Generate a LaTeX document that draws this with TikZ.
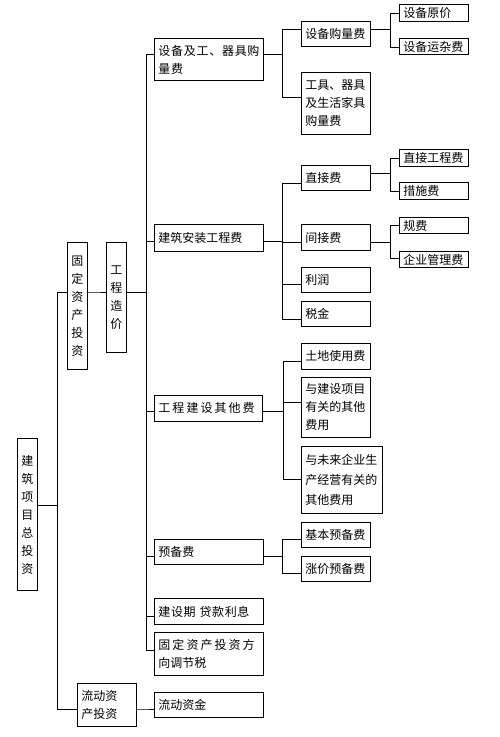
\documentclass[tikz,border=0pt]{standalone}
\usepackage{fontspec}
\setmainfont{Noto Sans CJK SC}
\newcommand\tlink[5]{\draw[conn] (#1.east |- 0,#2) -- (#3,#2) |- (#4.west |- 0,#5);}
\tikzset{
  box/.style={draw, line width=0.9pt, anchor=north west, inner xsep=4pt, inner ysep=0pt,
    align=left, font=\fontsize{12}{18}\selectfont},
  vbox/.style={box, align=center, minimum width=20pt, text width=12pt},
  ls/.style={font=\fontsize{12}{18}\selectfont\addfontfeature{LetterSpace=#1}},
  conn/.style={line width=0.9pt}
}
\begin{document}
\begin{tikzpicture}[x=1pt,y=-1pt]
\useasboundingbox[fill=white] (0,0) rectangle (500,737);
% column 1-2
\node[vbox, minimum height=152pt] (A) at (17,438) {建\\筑\\项\\目\\总\\投\\资};
\node[vbox, minimum height=127pt] (B) at (67,242) {固\\定\\资\\产\\投\\资};
\node[box, minimum width=59pt, text width=51pt, minimum height=43pt] (C) at (77,683) {流动资\\产投资};
\node[vbox, minimum height=110pt] (D) at (106,242) {工\\程\\造\\价};
% column 3
\node[box, ls=6, minimum width=109pt, text width=101pt, minimum height=42pt] (E1) at (154,38) {设备及工、器具购\\量费};
\node[box, minimum width=109pt, text width=101pt, minimum height=27pt] (E2) at (154,224) {建筑安装工程费};
\node[box, ls=17, minimum width=108pt, text width=100pt, minimum height=26pt] (E3) at (154,395) {工程建设其他费};
\node[box, minimum width=109pt, text width=101pt, minimum height=25pt] (E4) at (154,539) {预备费};
\node[box, ls=5, minimum width=109pt, text width=101pt, minimum height=26pt] (E5) at (154,598) {建设期 贷款利息};
\node[box, minimum width=109pt, text width=101pt, minimum height=43pt] (E6) at (154,632) {{\addfontfeature{LetterSpace=17}固定资产投资方}\\向调节税};
\node[box, minimum width=109pt, text width=101pt, minimum height=25pt] (E7) at (154,692) {流动资金};
% column 4
\node[box, minimum width=69pt, text width=61pt, minimum height=25pt] (F1) at (301,21) {设备购量费};
\node[box, minimum width=69pt, text width=61pt, minimum height=62pt] (F2) at (301,72) {工具、器具\\及生活家具\\购量费};
\node[box, minimum width=69pt, text width=61pt, minimum height=25pt] (F3) at (301,165) {直接费};
\node[box, minimum width=69pt, text width=61pt, minimum height=26pt] (F4) at (301,224) {间接费};
\node[box, minimum width=69pt, text width=61pt, minimum height=25pt] (F5) at (301,267) {利润};
\node[box, minimum width=69pt, text width=61pt, minimum height=25pt] (F6) at (301,301) {税金};
\node[box, minimum width=69pt, text width=61pt, minimum height=26pt] (F7) at (301,343) {土地使用费};
\node[box, minimum width=69pt, text width=61pt, minimum height=60pt] (F8) at (301,377) {与建设项目\\有关的其他\\费用};
\node[box, font=\fontsize{12}{20}\selectfont, minimum width=81pt, text width=73pt, minimum height=67pt] (F9) at (301,446) {与未来企业生\\产经营有关的\\其他费用};
\node[box, minimum width=69pt, text width=61pt, minimum height=25pt] (F10) at (301,522) {基本预备费};
\node[box, minimum width=69pt, text width=61pt, minimum height=25pt] (F11) at (301,556) {涨价预备费};
% column 5
\node[box, minimum width=69pt, text width=61pt, minimum height=17pt] (G1) at (399,4) {设备原价};
\node[box, minimum width=69pt, text width=61pt, minimum height=16pt] (G2) at (399,38) {设备运杂费};
\node[box, minimum width=69pt, text width=61pt, minimum height=17pt] (G3) at (399,149) {直接工程费};
\node[box, minimum width=69pt, text width=61pt, minimum height=17pt] (G4) at (399,182) {措施费};
\node[box, minimum width=69pt, text width=61pt, minimum height=16pt] (G5) at (399,217) {规费};
\node[box, minimum width=69pt, text width=61pt, minimum height=16pt] (G6) at (399,251) {企业管理费};
% connectors
\tlink{A}{505}{57}{B}{292}
\tlink{A}{505}{57}{C}{709}
\tlink{B}{292}{96}{D}{292}
\tlink{C}{709}{145}{E7}{709}
\tlink{D}{292}{146}{E1}{54}
\tlink{D}{292}{146}{E2}{241}
\tlink{D}{292}{146}{E3}{411}
\tlink{D}{292}{146}{E4}{556}
\tlink{D}{292}{146}{E5}{616}
\tlink{D}{292}{146}{E6}{650}
\tlink{E1}{54}{282}{F1}{29}
\tlink{E1}{54}{282}{F2}{97}
\tlink{E2}{241}{282}{F3}{183}
\tlink{E2}{241}{282}{F4}{242}
\tlink{E2}{241}{282}{F5}{284}
\tlink{E2}{241}{282}{F6}{319}
\tlink{E3}{411}{283}{F7}{361}
\tlink{E3}{411}{283}{F8}{402}
\tlink{E3}{411}{283}{F9}{479}
\tlink{E4}{556}{282}{F10}{539}
\tlink{E4}{556}{282}{F11}{573}
\tlink{F1}{29}{390}{G1}{13}
\tlink{F1}{29}{390}{G2}{47}
\tlink{F3}{173}{390}{G3}{158}
\tlink{F3}{173}{390}{G4}{191}
\tlink{F4}{242}{390}{G5}{225}
\tlink{F4}{242}{390}{G6}{258}
\end{tikzpicture}
\end{document}
